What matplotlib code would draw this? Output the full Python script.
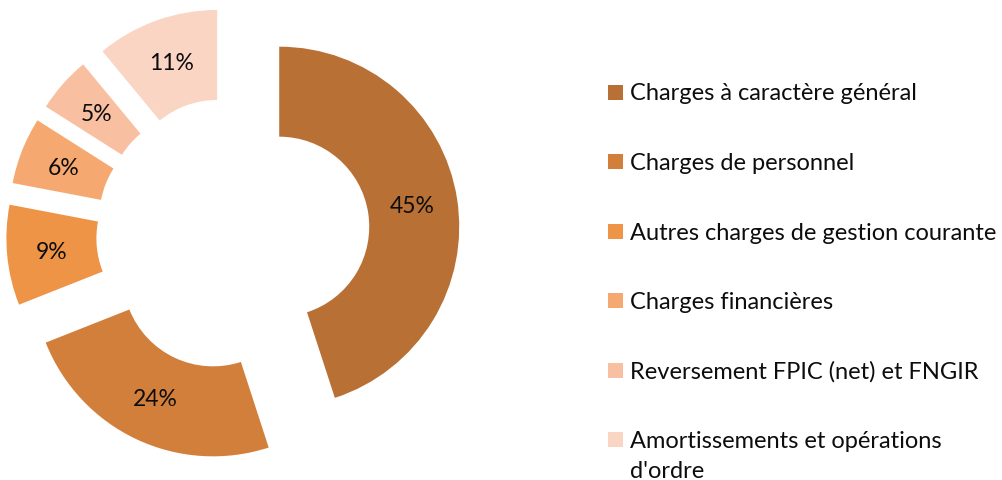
import matplotlib
matplotlib.use("Agg")
import matplotlib.pyplot as plt
from matplotlib.patches import Rectangle

categories = [
    "Charges à caractère général",
    "Charges de personnel",
    "Autres charges de gestion courante",
    "Charges financières",
    "Reversement FPIC (net) et FNGIR",
    "Amortissements et opérations\nd'ordre",
]
values = [45, 24, 9, 6, 5, 11]
colors = ["#B87035", "#D27F3B", "#EE9446", "#F6A871", "#F8C0A1", "#FAD5C4"]

plt.rcParams['font.family'] = ['Lato', 'DejaVu Sans']

W, H = 1002, 481
fig = plt.figure(figsize=(W / 100, H / 100), dpi=100)
ax = fig.add_axes([0, 0, 1, 1])
R = 180.0
cx, cy = 233.0, 235.0
ax.axis('off')

wedges, texts, autotexts = ax.pie(
    values, colors=colors, startangle=90, counterclock=False,
    explode=[0.26] * len(values), radius=1.0,
    wedgeprops=dict(width=0.5, edgecolor='none'),
    autopct='%1.0f%%', pctdistance=0.75,
    textprops=dict(fontsize=16.5, color='#0d0d0d'),
)
ax.set_xlim(-cx / R, (W - cx) / R)
ax.set_ylim(-(H - cy) / R, cy / R)
ax.set_aspect('auto')

# Legend drawn manually
leg_x = 608
leg_y0 = 93
step = 69.5
line_h = 30
for i, (cat, col) in enumerate(zip(categories, colors)):
    y = leg_y0 + i * step
    fig.patches.append(Rectangle((leg_x / W, 1 - (y + 7.5) / H), 15 / W, 15 / H,
                                 transform=fig.transFigure, facecolor=col,
                                 edgecolor='none'))
    for k, line in enumerate(cat.split("\n")):
        fig.text((leg_x + 22) / W, 1 - (y + 7.5 + k * line_h) / H, line,
                 fontsize=17, color='#0d0d0d', va='baseline', ha='left')

fig.savefig("out.png", dpi=100)
